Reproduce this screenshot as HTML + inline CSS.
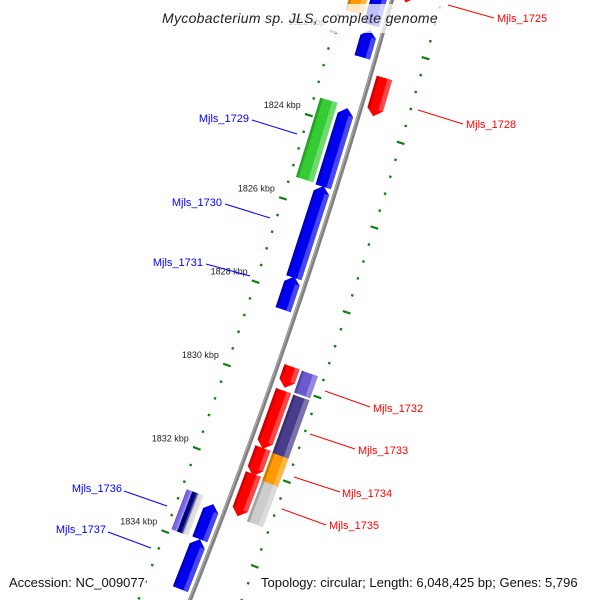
<!DOCTYPE html>
<html><head><meta charset="utf-8"><style>
html,body{margin:0;padding:0;background:#fff;}
svg{display:block;font-family:"Liberation Sans","DejaVu Sans",sans-serif;}
</style></head><body>
<svg id="map" width="600" height="600" viewBox="0 0 600 600" xmlns="http://www.w3.org/2000/svg">
<g id="ticks"></g>
<g id="feats"></g>
<g id="labels"></g>
</svg>
<script>
// ---- data ----
const tickMajorKbp = [1820, 1822, 1824, 1826, 1828, 1830, 1832, 1834, 1836];
const tickMinorStep = 0.4;
const featStart = [1820.78,1821.73,1823.59,1825.45,1827.61,1833.04,1833.88, 1820.92,1823.54, 1820.6,1822.69,1829.55,1830.12,1831.48,1832.10, 1829.56,1830.13,1831.51,1832.17];
const featEnd   = [1821.61,1822.38,1825.47,1827.64,1828.40,1833.88,1835.07, 1821.44,1825.44, 1820.9,1823.60,1830.05,1831.50,1832.14,1833.10, 1830.08,1831.53,1832.20,1833.13];
const featLane  = ["A","A","A","A","A","A","A", "B","B", "C","C","C","C","C","C", "D","D","D","D"];
const featColor = ["#0000ee","#0000ee","#0000ee","#0000ee","#0000ee","#0000ee","#0000ee", "#ff9900","#33cc33", "#ff0000","#ff0000","#ff0000","#ff0000","#ff0000","#ff0000", "#6a5acd","#483d8b","#ff9900","#cccccc"];
const featArrow = ["up","up","up","up","up","up","up", "none","none", "down","down","down","down","down","down", "none","none","none","none"];
const stripeStart = [1832.94];
const stripeEnd = [1833.90];
const leftLabels = ["Mjls_1729","Mjls_1730","Mjls_1731","Mjls_1736","Mjls_1737"];
const rightLabels = ["Mjls_1725","Mjls_1728","Mjls_1732","Mjls_1733","Mjls_1734","Mjls_1735"];

(function(){
const laneD = {A:-13, B:-33, C:14, D:33};
const laneW = {A:16, B:18, C:16, D:17};
function xb(y){return 392-0.276*y-1.01e-4*y*y;}
function dxb(y){return -0.276-2.02e-4*y;}
function yb(k){return 129+(k-1824)*42;}
function pt(k,d){const y=yb(k),s=dxb(y),n=Math.hypot(1,s);return [xb(y)+d/n, y-s*d/n];}
const NS="http://www.w3.org/2000/svg";
function mk(tag,attrs,parent){const e=document.createElementNS(NS,tag);for(const a in attrs)e.setAttribute(a,attrs[a]);parent.appendChild(e);return e;}
function shade(c,f){const n=parseInt(c.slice(1),16);let r=n>>16,g=(n>>8)&255,b=n&255;
 const m=v=>Math.max(0,Math.min(255,Math.round(f>0?v+(255-v)*f:v*(1+f))));return `rgb(${m(r)},${m(g)},${m(b)})`;}
const gT=document.getElementById('ticks'),gF=document.getElementById('feats'),gL=document.getElementById('labels');

let bp="";for(let y=-10;y<=610;y+=5){bp+=(y==-10?"M":"L")+xb(y).toFixed(1)+","+y;}
const bb=mk('path',{d:bp,fill:'none',stroke:'#808080','stroke-width':4},gT);


let bp2="";for(let y=-10;y<=610;y+=5){bp2+=(y==-10?"M":"L")+(xb(y)-1).toFixed(1)+","+y;}
mk('path',{d:bp2,fill:'none',stroke:'#b0b0b0','stroke-width':1},gT);

function tick(k,d,major){
 const a=pt(k,d-(major?4:1.2)),b=pt(k,d+(major?4:1.2));
 const l=mk('line',{x1:a[0],y1:a[1],x2:b[0],y2:b[1],stroke:'#108010','stroke-width':major?2.2:2.4},gT);
 
 
}
for(let i=0;i<tickMajorKbp.length-1;i++){
 const k0=tickMajorKbp[i];
 for(let j=0;j<5;j++){
  const k=k0+j*tickMinorStep;
  tick(k,-48,j==0);tick(k,48,j==0);
 }
 const p=pt(k0,-48);
 const t=mk('text',{x:p[0]-8,y:p[1]-7,'text-anchor':'end','font-size':9,fill:'#222'},gT);
 t.textContent=k0+" kbp";
 
 
}

function feat(s,e,d,w,color,arrow,name){
 const L=d-w/2,R=d+w/2,ah=0.16;
 let pts;
 if(arrow=="up"){pts=[pt(s+ah,L),pt(s,d),pt(s+ah,R),pt(e,R),pt(e,L)];}
 else if(arrow=="down"){pts=[pt(s,L),pt(s,R),pt(e-ah,R),pt(e,d),pt(e-ah,L)];}
 else pts=[pt(s,L),pt(s,R),pt(e,R),pt(e,L)];
 const p=mk('polygon',{points:pts.map(q=>q[0].toFixed(1)+","+q[1].toFixed(1)).join(" "),fill:color},gF);
 
 
 const hs=s+(arrow=="up"?ah:0),he=e-(arrow=="down"?ah:0);
 const h=[pt(hs,R-w*0.3),pt(hs,R),pt(he,R),pt(he,R-w*0.3)];
 mk('polygon',{points:h.map(q=>q[0].toFixed(1)+","+q[1].toFixed(1)).join(" "),fill:shade(color,0.35),opacity:0.8},gF);
 const h2=[pt(hs,L),pt(hs,L+w*0.15),pt(he,L+w*0.15),pt(he,L)];
 mk('polygon',{points:h2.map(q=>q[0].toFixed(1)+","+q[1].toFixed(1)).join(" "),fill:shade(color,-0.25),opacity:0.8},gF);
}
for(let i=0;i<featStart.length;i++){
 feat(featStart[i],featEnd[i],laneD[featLane[i]],laneW[featLane[i]],featColor[i],featArrow[i],'gene-feature');
}
for(let i=0;i<stripeStart.length;i++){
 const cs=["#7b68ee","#000080","#dddddd"];
 for(let j=0;j<3;j++) feat(stripeStart[i],stripeEnd[i],-40+j*6,6,cs[j],'none','striped-feature');
}

const lPos=[[249,122,252,120,297,134],[222,206,225,204,270,218],[203,266,206,264,250,276],[122,492,124,491,167,506],[106,533,108,532,151,548]];
leftLabels.forEach((s,i)=>{const q=lPos[i];
 mk('line',{x1:q[2],y1:q[3],x2:q[4],y2:q[5],stroke:'#0000ff','stroke-width':1},gL);
 const t=mk('text',{x:q[0],y:q[1],'text-anchor':'end','font-size':11,fill:'#0000ff'},gL);t.textContent=s;
 
 
});
const rPos=[[497,22,448,5,494,18],[466,128,418,110,463,124],[373,412,325,391,370,407],[358,454,310,434,355,449],[342,497,294,477,340,492],[329,529,282,509,326,525]];
rightLabels.forEach((s,i)=>{const q=rPos[i];
 mk('line',{x1:q[2],y1:q[3],x2:q[4],y2:q[5],stroke:'#ff0000','stroke-width':1},gL);
 const t=mk('text',{x:q[0],y:q[1],'font-size':11,fill:'#ff0000'},gL);t.textContent=s;
 
 
});

const tbg=mk('rect',{x:153,y:4,width:292,height:29,fill:'#fff',opacity:0.75},gL);


const ttl=mk('text',{x:300,y:23,'text-anchor':'middle','font-size':14,'font-style':'italic',fill:'#222','letter-spacing':'0.3'},gL);
ttl.textContent="Mycobacterium sp. JLS, complete genome";


mk('rect',{x:6,y:572,width:140,height:20,fill:'#fff',opacity:0.75},gL);
mk('rect',{x:257,y:572,width:338,height:20,fill:'#fff',opacity:0.75},gL);
const accText=mk('text',{x:9,y:587,'font-size':13,fill:'#111'},gL);
accText.textContent="Accession: NC_009077";


const topoText=mk('text',{x:261,y:587,'font-size':13,fill:'#111'},gL);
topoText.textContent="Topology: circular; Length: 6,048,425 bp; Genes: 5,796";


})();
</script>
</body></html>
